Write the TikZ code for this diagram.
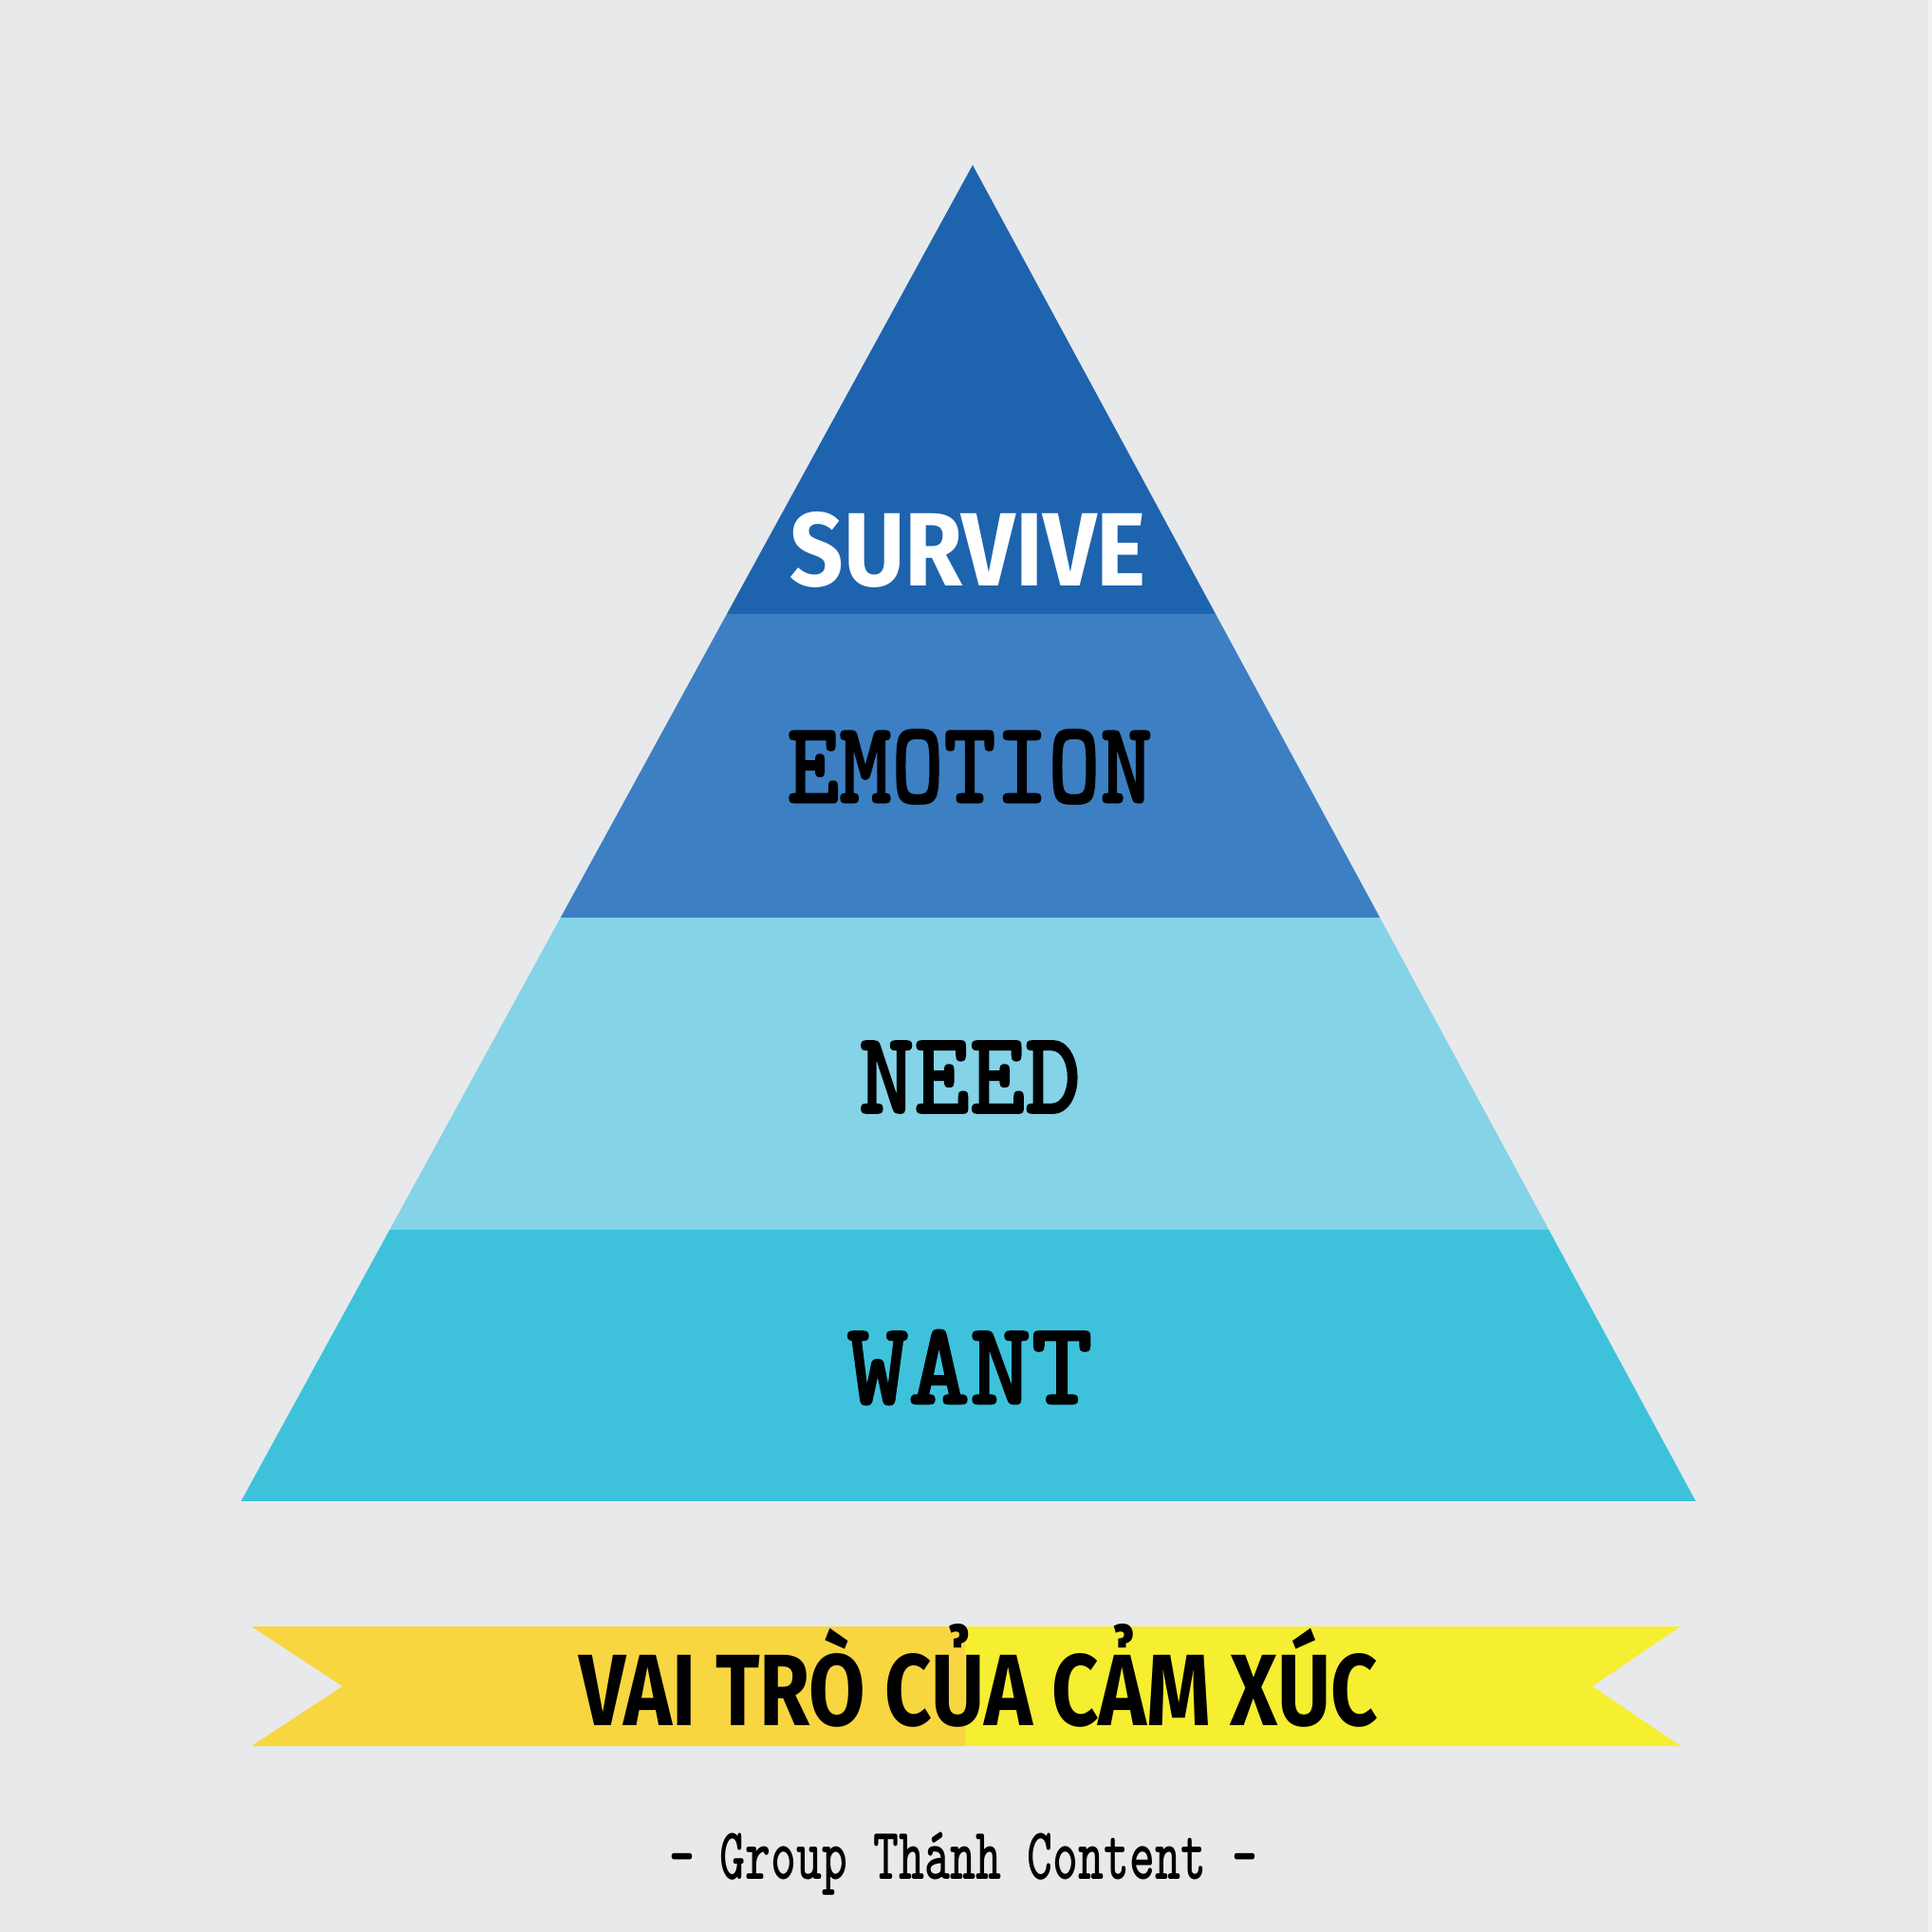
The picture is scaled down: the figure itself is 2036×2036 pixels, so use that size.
\documentclass[tikz,border=0pt]{standalone}
\usepackage{fontspec}
\usepackage{graphicx}
\newfontfamily\survfont{Fira Sans}
\newfontfamily\twfont{lmmonolt10-bold.otf}[FakeBold=1.4]
\newfontfamily\twlight{lmmonolt10-bold.otf}
\definecolor{bg}{HTML}{E8E9EB}
\definecolor{edge}{HTML}{F1F1F3}
\definecolor{cA}{HTML}{1E63AE}
\definecolor{cB}{HTML}{3C7FC3}
\definecolor{cC}{HTML}{84D3E7}
\definecolor{cD}{HTML}{3EC2DC}
\definecolor{yl}{HTML}{F8D640}
\definecolor{yr}{HTML}{F6EE30}
\tikzset{lbl/.style={inner sep=0pt, outer sep=0pt}}
\begin{document}
\begin{tikzpicture}[x=1pt,y=-1pt]
\useasboundingbox (0,0) rectangle (2036,2036);
\fill[bg] (0,0) rectangle (2036,2036);
\fill[edge] (2032,0) rectangle (2036,2036);
\coordinate (apex) at (1025,174);
\coordinate (bl) at (254,1582);
\coordinate (br) at (1787,1582);
\begin{scope}
\clip (apex) -- (bl) -- (br) -- cycle;
\fill[cA] (0,0) rectangle (2036,647);
\fill[cB] (0,647) rectangle (2036,967);
\fill[cC] (0,967) rectangle (2036,1296);
\fill[cD] (0,1296) rectangle (2036,1582);
\end{scope}
\node[lbl, text=white] (survive) at (1020,579) {\resizebox{375pt}{78pt}{\survfont\bfseries SURVIVE}};
\node[lbl] (emotion) at (1022,808) {\resizebox{385pt}{77pt}{\twfont EMOTION}};
\node[lbl] (need) at (1022,1135) {\resizebox{234pt}{76pt}{\twfont NEED}};
\node[lbl] (want) at (1022,1441) {\resizebox{259pt}{78pt}{\twfont WANT}};
% banner
\fill[yl] (265,1714) -- (1017,1714) -- (1017,1840) -- (265,1840) -- (361,1777) -- cycle;
\fill[yr] (1017,1714) -- (1771,1714) -- (1678,1777) -- (1771,1840) -- (1017,1840) -- cycle;
\node[lbl, anchor=base] (title) at (1031,1818) {\resizebox{842pt}{\height}{\fontsize{107}{110}\survfont\bfseries VAI TRÒ CỦA CẢM XÚC}};
\node[lbl, anchor=base] (credit) at (1015,1980) {\resizebox{620pt}{\height}{\fontsize{78}{80}\twlight – Group Thánh Content –}};
\end{tikzpicture}
\end{document}
